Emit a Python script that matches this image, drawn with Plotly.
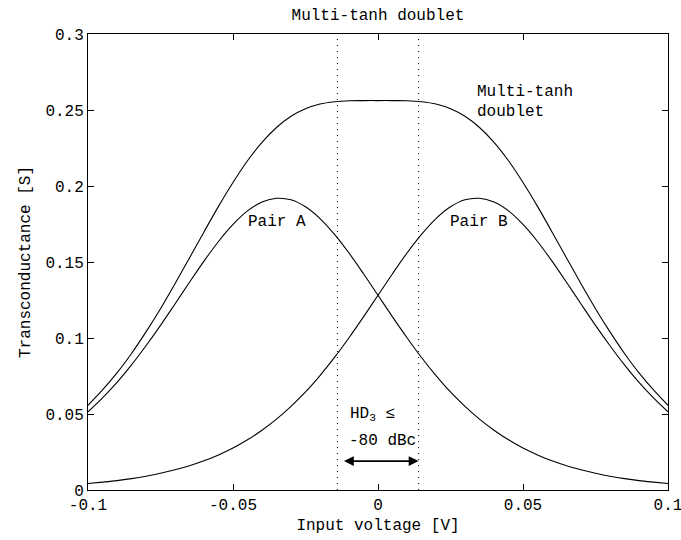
import plotly.graph_objects as go

# Input voltage [V]
x_v = [-0.100, -0.095, -0.090, -0.085, -0.080, -0.075, -0.070, -0.065, -0.060, -0.055,
       -0.050, -0.045, -0.040, -0.035, -0.030, -0.025, -0.020, -0.015, -0.010, -0.005,
       0.000, 0.005, 0.010, 0.015, 0.020, 0.025, 0.030, 0.035, 0.040, 0.045,
       0.050, 0.055, 0.060, 0.065, 0.070, 0.075, 0.080, 0.085, 0.090, 0.095, 0.100]

pair_a = [0.0514, 0.0606, 0.0708, 0.0823, 0.0949, 0.1083, 0.1224, 0.1367, 0.1506, 0.1635,
          0.1747, 0.1836, 0.1894, 0.1919, 0.1909, 0.1863, 0.1786, 0.1682, 0.1559, 0.1423,
          0.1281, 0.1139, 0.1002, 0.0872, 0.0753, 0.0645, 0.0550, 0.0466, 0.0393, 0.0330,
          0.0276, 0.0231, 0.0192, 0.0160, 0.0133, 0.0110, 0.0091, 0.0075, 0.0062, 0.0052,
          0.0043]

pair_b = [0.0043, 0.0052, 0.0062, 0.0075, 0.0091, 0.0110, 0.0133, 0.0160, 0.0192, 0.0231,
          0.0276, 0.0330, 0.0393, 0.0466, 0.0550, 0.0645, 0.0753, 0.0872, 0.1002, 0.1139,
          0.1281, 0.1423, 0.1559, 0.1682, 0.1786, 0.1863, 0.1909, 0.1919, 0.1894, 0.1836,
          0.1747, 0.1635, 0.1506, 0.1367, 0.1224, 0.1083, 0.0949, 0.0823, 0.0708, 0.0606,
          0.0514]

doublet = [0.0557, 0.0658, 0.0770, 0.0898, 0.1040, 0.1193, 0.1357, 0.1527, 0.1698, 0.1866,
           0.2023, 0.2166, 0.2287, 0.2385, 0.2459, 0.2508, 0.2539, 0.2554, 0.2561, 0.2562,
           0.2562, 0.2562, 0.2561, 0.2554, 0.2539, 0.2508, 0.2459, 0.2385, 0.2287, 0.2166,
           0.2023, 0.1866, 0.1698, 0.1527, 0.1357, 0.1193, 0.1040, 0.0898, 0.0770, 0.0658,
           0.0557]

flat_edges = [-0.014, 0.014]

x_ticks = [-0.1, -0.05, 0, 0.05, 0.1]
x_tick_text = ["-0.1", "-0.05", "0", "0.05", "0.1"]
y_ticks = [0, 0.05, 0.1, 0.15, 0.2, 0.25, 0.3]
y_tick_text = ["0", "0.05", "0.1", "0.15", "0.2", "0.25", "0.3"]

FONT = "Liberation Mono, Courier New, monospace"

fig = go.Figure()
for ys in (doublet, pair_a, pair_b):
    fig.add_trace(go.Scatter(x=x_v, y=ys, mode="lines",
                             line=dict(color="black", width=1.1, shape="spline"),
                             showlegend=False, hoverinfo="skip"))

for xe in flat_edges:
    fig.add_trace(go.Scatter(x=[xe, xe], y=[0, 0.3], mode="lines",
                             line=dict(color="black", width=1, dash="1px,5px"),
                             showlegend=False, hoverinfo="skip"))

fig.add_annotation(x=flat_edges[1], y=0.019, ax=flat_edges[0], ay=0.019,
                   xref="x", yref="y", axref="x", ayref="y", text=" ",
                   showarrow=True, arrowhead=2, arrowside="end+start",
                   arrowsize=1.1, arrowwidth=1.8, arrowcolor="black")

txt = dict(family=FONT, size=16, color="black")
fig.add_annotation(x=0.0335, y=0.262, text="Multi-tanh", showarrow=False, xanchor="left", font=txt)
fig.add_annotation(x=0.0335, y=0.249, text="doublet", showarrow=False, xanchor="left", font=txt)
fig.add_annotation(x=-0.0455, y=0.176, text="Pair A", showarrow=False, xanchor="left", font=txt)
fig.add_annotation(x=0.0240, y=0.176, text="Pair B", showarrow=False, xanchor="left", font=txt)
fig.add_annotation(x=-0.0105, y=0.050, text="HD<sub>3</sub> \u2264", showarrow=False, xanchor="left", font=txt)
fig.add_annotation(x=-0.0108, y=0.032, text="-80 dBc", showarrow=False, xanchor="left", font=txt)

axis_common = dict(showline=True, linecolor="black", linewidth=1, mirror="ticks",
                   ticks="inside", ticklen=6, tickcolor="black", tickwidth=1,
                   showgrid=False, zeroline=False, tickfont=txt,
                   ticklabeloverflow="allow", automargin=False)

fig.update_layout(
    width=681, height=540,
    margin=dict(l=88, r=13, t=34, b=50, autoexpand=False),
    paper_bgcolor="white", plot_bgcolor="white",
    font=txt,
    title=dict(text="Multi-tanh doublet", x=0.555, xanchor="center", y=0.973, yanchor="middle",
               font=txt, automargin=False),
    xaxis=dict(range=[-0.1, 0.1], tickvals=x_ticks, ticktext=x_tick_text,
               title=dict(text="Input voltage [V]", font=txt, standoff=4), **axis_common),
    yaxis=dict(range=[0, 0.3], tickvals=y_ticks, ticktext=y_tick_text,
               title=dict(text="Transconductance [S]", font=txt, standoff=10), **axis_common),
)

fig.write_html("out.html")
